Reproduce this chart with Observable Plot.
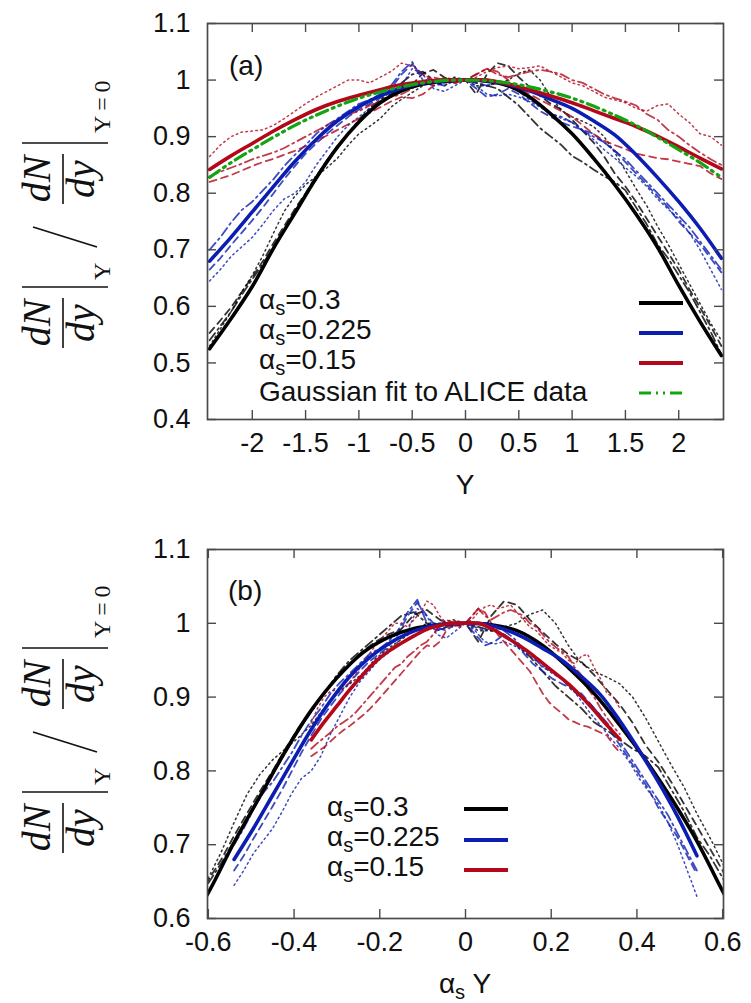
<!DOCTYPE html>
<html><head><meta charset="utf-8">
<script src="https://cdn.jsdelivr.net/npm/d3@7"></script>
<script src="https://cdn.jsdelivr.net/npm/@observablehq/plot@0.6"></script>
<style>
body{margin:0;background:#fff;}
#wrap{width:751px;height:1003px;overflow:hidden;background:#fff;}
#wrap svg{display:block;}
</style></head><body><div id="wrap"></div>
<script>
// ---------- data ----------
const alphas = [0.3, 0.225, 0.15];
const legendLabels = ["0.3", "0.225", "0.15"];
const gaussLabel = "Gaussian fit to ALICE data";

const xTicksA = [-2, -1.5, -1, -0.5, 0, 0.5, 1, 1.5, 2];
const yTicksA = [0.4, 0.5, 0.6, 0.7, 0.8, 0.9, 1, 1.1];
const xTicksB = [-0.6, -0.4, -0.2, 0, 0.2, 0.4, 0.6];
const yTicksB = [0.6, 0.7, 0.8, 0.9, 1, 1.1];

// rapidity grid for smooth curves
const Y25 = [-2.4,-2.2,-2,-1.8,-1.6,-1.4,-1.2,-1,-0.8,-0.6,-0.4,-0.2,0,0.2,0.4,0.6,0.8,1,1.2,1.4,1.6,1.8,2,2.2,2.4];
// rapidity grid for fluctuating curves
const Y49 = [-2.4,-2.3,-2.2,-2.1,-2,-1.9,-1.8,-1.7,-1.6,-1.5,-1.4,-1.3,-1.2,-1.1,-1,-0.9,-0.8,-0.7,-0.6,-0.5,-0.4,-0.3,-0.2,-0.1,0,
             0.1,0.2,0.3,0.4,0.5,0.6,0.7,0.8,0.9,1,1.1,1.2,1.3,1.4,1.5,1.6,1.7,1.8,1.9,2,2.1,2.2,2.3,2.4];

const solid030  = [0.525,0.578,0.635,0.703,0.765,0.827,0.882,0.926,0.960,0.981,0.993,0.998,1.000,0.998,0.990,0.970,0.940,0.905,0.862,0.815,0.763,0.705,0.637,0.573,0.513];
const solid0225 = [0.680,0.722,0.767,0.812,0.856,0.895,0.928,0.953,0.972,0.986,0.995,0.999,1.000,0.999,0.992,0.981,0.966,0.950,0.928,0.903,0.868,0.828,0.785,0.738,0.685];
const solid015  = [0.842,0.866,0.888,0.910,0.930,0.948,0.962,0.973,0.983,0.992,0.997,1.000,1.000,1.000,0.993,0.983,0.972,0.960,0.946,0.932,0.918,0.901,0.882,0.862,0.843];
const aliceFit  = [0.828,0.854,0.877,0.899,0.920,0.938,0.954,0.968,0.979,0.988,0.995,0.999,1.000,0.999,0.995,0.988,0.979,0.968,0.954,0.938,0.920,0.899,0.877,0.854,0.828];

const dashed030 = [0.553,0.575,0.598,0.625,0.652,0.680,0.712,0.742,0.772,0.800,0.830,0.858,0.882,0.905,0.928,0.945,0.962,0.975,0.985,0.992,1.012,1.018,1.005,0.995,1.000,
                   0.975,1.010,1.030,1.025,1.005,0.988,0.972,0.958,0.948,0.930,0.910,0.890,0.865,0.835,0.812,0.785,0.755,0.725,0.695,0.665,0.630,0.598,0.565,0.530];
const dashdot030 = [0.540,0.565,0.590,0.620,0.648,0.675,0.705,0.735,0.765,0.795,0.825,0.855,0.880,0.905,0.930,0.950,0.965,0.980,0.995,1.010,1.015,1.000,0.990,1.000,1.000,
                    0.995,0.990,0.985,0.970,0.955,0.935,0.915,0.900,0.885,0.866,0.855,0.842,0.830,0.820,0.805,0.775,0.745,0.710,0.685,0.655,0.625,0.590,0.555,0.515];
const dotted030 = [0.530,0.560,0.590,0.625,0.655,0.690,0.730,0.768,0.795,0.815,0.830,0.845,0.862,0.885,0.905,0.918,0.932,0.952,0.966,0.978,0.990,1.000,1.000,1.005,1.000,
                   0.990,0.990,0.995,1.000,1.012,1.018,1.000,0.970,0.946,0.935,0.927,0.918,0.900,0.872,0.840,0.808,0.778,0.742,0.710,0.675,0.640,0.605,0.570,0.540];

const dashed0225 = [0.665,0.685,0.708,0.730,0.752,0.775,0.800,0.825,0.848,0.870,0.888,0.905,0.920,0.935,0.948,0.958,0.968,0.985,1.010,1.028,1.010,0.995,0.990,1.000,1.000,
                    0.985,0.970,0.975,0.985,0.975,0.960,0.945,0.935,0.925,0.918,0.912,0.905,0.890,0.875,0.855,0.835,0.815,0.795,0.775,0.750,0.730,0.710,0.685,0.660];
const dashdot0225 = [0.700,0.722,0.748,0.770,0.785,0.805,0.825,0.848,0.868,0.885,0.905,0.920,0.932,0.945,0.958,0.965,0.975,0.990,1.015,1.032,1.000,0.990,0.995,1.000,1.000,
                     0.995,0.990,0.995,0.990,0.980,0.965,0.955,0.940,0.935,0.925,0.910,0.900,0.890,0.875,0.860,0.840,0.820,0.800,0.780,0.760,0.740,0.715,0.690,0.665];
const dotted0225 = [0.645,0.665,0.688,0.705,0.722,0.745,0.770,0.790,0.800,0.820,0.850,0.875,0.900,0.920,0.935,0.950,0.960,0.975,0.990,1.020,1.010,0.985,0.980,0.990,1.000,
                    0.990,0.975,0.972,0.975,0.970,0.962,0.952,0.942,0.932,0.925,0.912,0.895,0.877,0.862,0.845,0.830,0.812,0.790,0.772,0.755,0.730,0.700,0.665,0.630];

const dotted015 = [0.865,0.885,0.900,0.908,0.910,0.912,0.920,0.932,0.945,0.958,0.970,0.980,0.990,1.000,1.000,0.995,1.005,1.015,1.030,1.025,1.010,1.000,0.995,0.998,1.000,
                   1.005,1.015,1.022,1.025,1.020,1.022,1.025,1.015,1.005,0.995,0.990,0.980,0.970,0.965,0.960,0.950,0.945,0.955,0.958,0.940,0.925,0.905,0.900,0.885];
const dashdot015 = [0.830,0.838,0.845,0.852,0.860,0.866,0.872,0.880,0.890,0.900,0.910,0.920,0.930,0.940,0.945,0.955,0.962,0.970,0.975,0.985,0.998,1.005,1.000,0.995,1.000,
                    1.010,1.020,1.010,1.005,1.010,1.015,1.018,1.015,1.010,1.000,0.995,0.985,0.975,0.968,0.962,0.955,0.940,0.930,0.912,0.900,0.885,0.872,0.860,0.850];
const dashed015 = [0.820,0.826,0.832,0.840,0.848,0.855,0.861,0.868,0.875,0.883,0.892,0.902,0.912,0.922,0.932,0.942,0.952,0.962,0.970,0.968,0.975,0.990,1.005,1.000,1.000,
                   1.010,1.020,1.015,1.000,0.985,0.975,0.965,0.955,0.945,0.935,0.920,0.905,0.893,0.885,0.878,0.870,0.866,0.862,0.860,0.856,0.852,0.848,0.835,0.825];

// ---------- styling ----------
const BLACK = "#000000", BLUE = "#0c1eb2", RED = "#b3071a", GREEN = "#12a512";
const colors = [BLACK, BLUE, RED];
const FRAME = "#4a4a4a";
const DASH = "7,5", DASHDOT = "9,4,2,4", DOT = "1.6,3.4", GAUSS = "12,5,2,5,2,5";

const curves = [
  {alpha: 0.3,   xs: Y49, vs: dashed030,   color: BLACK, dash: DASH,    w: 1.8},
  {alpha: 0.3,   xs: Y49, vs: dashdot030,  color: BLACK, dash: DASHDOT, w: 1.8},
  {alpha: 0.3,   xs: Y49, vs: dotted030,   color: BLACK, dash: DOT,     w: 1.5},
  {alpha: 0.225, xs: Y49, vs: dashed0225,  color: BLUE,  dash: DASH,    w: 1.8},
  {alpha: 0.225, xs: Y49, vs: dashdot0225, color: BLUE,  dash: DASHDOT, w: 1.8},
  {alpha: 0.225, xs: Y49, vs: dotted0225,  color: BLUE,  dash: DOT,     w: 1.5},
  {alpha: 0.15,  xs: Y49, vs: dotted015,   color: RED,   dash: DOT,     w: 1.5},
  {alpha: 0.15,  xs: Y49, vs: dashdot015,  color: RED,   dash: DASHDOT, w: 1.8},
  {alpha: 0.15,  xs: Y49, vs: dashed015,   color: RED,   dash: DASH,    w: 1.8},
  {alpha: 0.3,   xs: Y25, vs: solid030,    color: BLACK, dash: null,    w: 3.6, smooth: true},
  {alpha: 0.225, xs: Y25, vs: solid0225,   color: BLUE,  dash: null,    w: 3.6, smooth: true},
  {alpha: 0.15,  xs: Y25, vs: solid015,    color: RED,   dash: null,    w: 3.6, smooth: true},
  {alpha: 1,     xs: Y25, vs: aliceFit,    color: GREEN, dash: GAUSS,   w: 3.2, smooth: true, alice: true}
];

function table(xs, vs, alpha) {
  return xs.map((Y, i) => ({Y, aY: alpha * Y, v: vs[i]}));
}

function lineMarks(key, withAlice) {
  return curves.filter(c => withAlice || !c.alice).map(c =>
    Plot.line(table(c.xs, c.vs, c.alpha), {
      x: key, y: "v", stroke: c.color, strokeWidth: c.w,
      strokeDasharray: c.dash || undefined,
      strokeOpacity: c.smooth ? 1 : 0.8,
      curve: c.smooth ? "catmull-rom" : "linear",
      clip: true
    })
  );
}

const W = 751;
const ML = 207, MR = 28;
const FONT = "'Liberation Sans', Arial, Helvetica, sans-serif";

function panel({height, mt, mb, xDomain, yDomain, xTicks, yTicks, key, withAlice}) {
  const ih = height - mt - mb, iw = W - ML - MR;
  const tk = 9;
  return Plot.plot({
    width: W, height,
    marginLeft: ML, marginRight: MR, marginTop: mt, marginBottom: mb,
    style: {fontFamily: FONT, fontSize: "27px", color: "#111", background: "transparent", overflow: "visible"},
    x: {domain: xDomain},
    y: {domain: yDomain},
    marks: [
      ...lineMarks(key, withAlice),
      Plot.tickX(xTicks, {x: d => d, insetBottom: ih - tk, stroke: FRAME, strokeWidth: 1.4}),
      Plot.tickX(xTicks, {x: d => d, insetTop: ih - tk, stroke: FRAME, strokeWidth: 1.4}),
      Plot.tickY(yTicks, {y: d => d, insetRight: iw - tk, stroke: FRAME, strokeWidth: 1.4}),
      Plot.tickY(yTicks, {y: d => d, insetLeft: iw - tk, stroke: FRAME, strokeWidth: 1.4}),
      Plot.frame({stroke: FRAME, strokeWidth: 1.7}),
      Plot.axisX({ticks: xTicks, tickSize: 0, tickPadding: 13, tickFormat: d => String(d), label: null}),
      Plot.axisY({ticks: yTicks, tickSize: 0, tickPadding: 17, tickFormat: d => String(d), label: null})
    ]
  });
}

const wrap = document.getElementById("wrap");
const svgA = panel({height: 500, mt: 23, mb: 81, xDomain: [-2.42, 2.42], yDomain: [0.4, 1.1],
                    xTicks: xTicksA, yTicks: yTicksA, key: "Y", withAlice: true});
const svgB = panel({height: 503, mt: 49, mb: 85, xDomain: [-0.602, 0.602], yDomain: [0.6, 1.1],
                    xTicks: xTicksB, yTicks: yTicksB, key: "aY", withAlice: false});
wrap.appendChild(svgA);
wrap.appendChild(svgB);

// ---------- annotations ----------
function plainText(sel, x, y, str, size, anchor) {
  return sel.append("text").attr("x", x).attr("y", y).attr("text-anchor", anchor || "start")
    .attr("font-family", FONT).attr("font-size", size).attr("fill", "#111").text(str);
}
function alphaText(sel, x, y, rest, size, anchor) {
  const t = sel.append("text").attr("x", x).attr("y", y).attr("text-anchor", anchor || "start")
    .attr("font-family", FONT).attr("font-size", size).attr("fill", "#111");
  t.append("tspan").text("α");
  t.append("tspan").text("s").attr("font-size", size * 0.72).attr("dy", 6);
  t.append("tspan").text(rest).attr("dy", -6);
  return t;
}

function yLabel(svg, cy) {
  const g = d3.select(svg).append("g").attr("transform", `translate(0,${cy}) rotate(-90)`)
    .attr("text-anchor", "start");
  const serif = "'Liberation Serif', 'DejaVu Serif', serif";
  const frac = (u) => {
    g.append("text").attr("x", u).attr("y", 50).attr("text-anchor", "middle")
      .attr("font-family", serif).attr("font-style", "italic").attr("font-size", 40).attr("fill", "#111").text("dN");
    g.append("line").attr("x1", u - 25).attr("x2", u + 25).attr("y1", 63).attr("y2", 63)
      .attr("stroke", "#111").attr("stroke-width", 1.6);
    g.append("text").attr("x", u).attr("y", 94).attr("text-anchor", "middle")
      .attr("font-family", serif).attr("font-style", "italic").attr("font-size", 40).attr("fill", "#111").text("dy");
  };
  const bar = (u) => g.append("line").attr("x1", u).attr("x2", u).attr("y1", 22).attr("y2", 108)
      .attr("stroke", "#111").attr("stroke-width", 1.6);
  frac(-110);
  bar(-74);
  g.append("text").attr("x", -67).attr("y", 110).attr("text-anchor", "start")
    .attr("font-family", serif).attr("font-size", 24).attr("fill", "#111").text("Y");
  g.append("line").attr("x1", -34).attr("y1", 97).attr("x2", -14).attr("y2", 33)
      .attr("stroke", "#111").attr("stroke-width", 1.8);
  frac(34);
  bar(70);
  g.append("text").attr("x", 80).attr("y", 110).attr("text-anchor", "start")
    .attr("font-family", serif).attr("font-size", 24).attr("fill", "#111").text("Y\u2009=\u20090");
}

// panel (a)
{
  const s = d3.select(svgA);
  yLabel(svgA, 213);
  plainText(s, 229, 75, "(a)", 28);
  const textY = [309, 339, 369];
  const lineY = [303, 333, 363];
  legendLabels.forEach((lab, i) => {
    alphaText(s, 259, textY[i], "=" + lab, 28);
    s.append("line").attr("x1", 639).attr("x2", 683).attr("y1", lineY[i]).attr("y2", lineY[i])
      .attr("stroke", colors[i]).attr("stroke-width", 4);
  });
  plainText(s, 259, 401, gaussLabel, 28);
  s.append("line").attr("x1", 639).attr("x2", 683).attr("y1", 393).attr("y2", 393)
    .attr("stroke", GREEN).attr("stroke-width", 3.2).attr("stroke-dasharray", GAUSS);
  plainText(s, 465, 494, "Y", 28, "middle");
}

// panel (b)
{
  const s = d3.select(svgB);
  yLabel(svgB, 218);
  plainText(s, 228, 100, "(b)", 28);
  const textY = [316, 346, 376];
  const lineY = [309, 340, 370];
  legendLabels.forEach((lab, i) => {
    alphaText(s, 327, textY[i], "=" + lab, 28);
    s.append("line").attr("x1", 464).attr("x2", 508).attr("y1", lineY[i]).attr("y2", lineY[i])
      .attr("stroke", colors[i]).attr("stroke-width", 4);
  });
  alphaText(s, 465, 493, " Y", 28, "middle");
}
</script>
</body></html>
